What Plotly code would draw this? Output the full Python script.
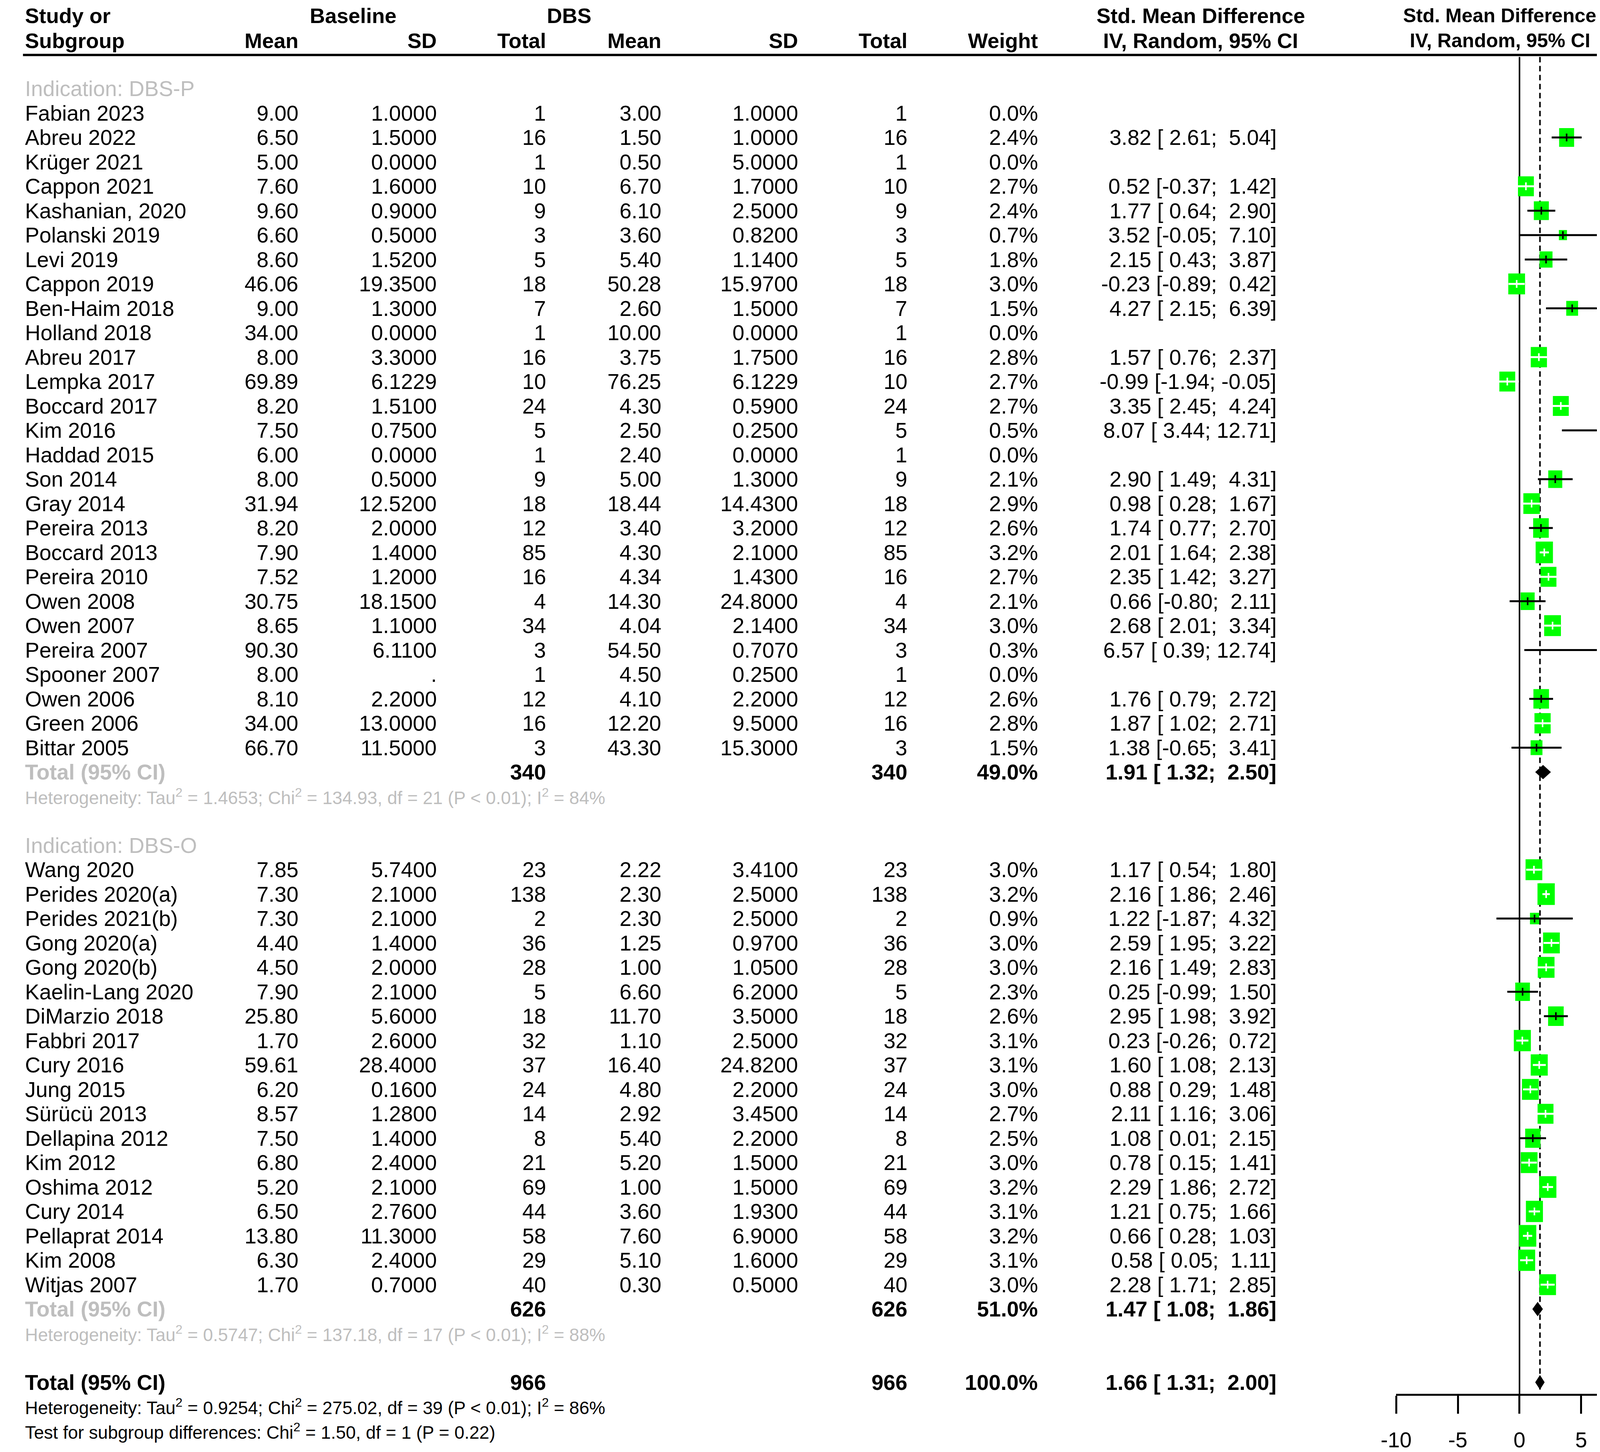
import math
import plotly.graph_objects as go

# ---------------- data ----------------
p_study = ["Fabian 2023", "Abreu 2022", "Krüger 2021", "Cappon 2021", "Kashanian, 2020",
           "Polanski 2019", "Levi 2019", "Cappon 2019", "Ben-Haim 2018", "Holland 2018",
           "Abreu 2017", "Lempka 2017", "Boccard 2017", "Kim 2016", "Haddad 2015",
           "Son 2014", "Gray 2014", "Pereira 2013", "Boccard 2013", "Pereira 2010",
           "Owen 2008", "Owen 2007", "Pereira 2007", "Spooner 2007", "Owen 2006",
           "Green 2006", "Bittar 2005"]
p_bmean = [9.00, 6.50, 5.00, 7.60, 9.60, 6.60, 8.60, 46.06, 9.00, 34.00, 8.00, 69.89, 8.20,
           7.50, 6.00, 8.00, 31.94, 8.20, 7.90, 7.52, 30.75, 8.65, 90.30, 8.00, 8.10, 34.00, 66.70]
p_bsd = [1.0, 1.5, 0.0, 1.6, 0.9, 0.5, 1.52, 19.35, 1.3, 0.0, 3.3, 6.1229, 1.51, 0.75, 0.0,
         0.5, 12.52, 2.0, 1.4, 1.2, 18.15, 1.1, 6.11, None, 2.2, 13.0, 11.5]
p_bn = [1, 16, 1, 10, 9, 3, 5, 18, 7, 1, 16, 10, 24, 5, 1, 9, 18, 12, 85, 16, 4, 34, 3, 1, 12, 16, 3]
p_dmean = [3.00, 1.50, 0.50, 6.70, 6.10, 3.60, 5.40, 50.28, 2.60, 10.00, 3.75, 76.25, 4.30,
           2.50, 2.40, 5.00, 18.44, 3.40, 4.30, 4.34, 14.30, 4.04, 54.50, 4.50, 4.10, 12.20, 43.30]
p_dsd = [1.0, 1.0, 5.0, 1.7, 2.5, 0.82, 1.14, 15.97, 1.5, 0.0, 1.75, 6.1229, 0.59, 0.25, 0.0,
         1.3, 14.43, 3.2, 2.1, 1.43, 24.8, 2.14, 0.707, 0.25, 2.2, 9.5, 15.3]
p_dn = p_bn
p_weight = [0.0, 2.4, 0.0, 2.7, 2.4, 0.7, 1.8, 3.0, 1.5, 0.0, 2.8, 2.7, 2.7, 0.5, 0.0,
            2.1, 2.9, 2.6, 3.2, 2.7, 2.1, 3.0, 0.3, 0.0, 2.6, 2.8, 1.5]
p_smd = [None, 3.82, None, 0.52, 1.77, 3.52, 2.15, -0.23, 4.27, None, 1.57, -0.99, 3.35, 8.07, None,
         2.90, 0.98, 1.74, 2.01, 2.35, 0.66, 2.68, 6.57, None, 1.76, 1.87, 1.38]
p_lo = [None, 2.61, None, -0.37, 0.64, -0.05, 0.43, -0.89, 2.15, None, 0.76, -1.94, 2.45, 3.44, None,
        1.49, 0.28, 0.77, 1.64, 1.42, -0.80, 2.01, 0.39, None, 0.79, 1.02, -0.65]
p_hi = [None, 5.04, None, 1.42, 2.90, 7.10, 3.87, 0.42, 6.39, None, 2.37, -0.05, 4.24, 12.71, None,
        4.31, 1.67, 2.70, 2.38, 3.27, 2.11, 3.34, 12.74, None, 2.72, 2.71, 3.41]

o_study = ["Wang 2020", "Perides 2020(a)", "Perides 2021(b)", "Gong 2020(a)", "Gong 2020(b)",
           "Kaelin-Lang 2020", "DiMarzio 2018", "Fabbri 2017", "Cury 2016", "Jung 2015",
           "Sürücü 2013", "Dellapina 2012", "Kim 2012", "Oshima 2012", "Cury 2014",
           "Pellaprat 2014", "Kim 2008", "Witjas 2007"]
o_bmean = [7.85, 7.30, 7.30, 4.40, 4.50, 7.90, 25.80, 1.70, 59.61, 6.20, 8.57, 7.50, 6.80, 5.20,
           6.50, 13.80, 6.30, 1.70]
o_bsd = [5.74, 2.1, 2.1, 1.4, 2.0, 2.1, 5.6, 2.6, 28.4, 0.16, 1.28, 1.4, 2.4, 2.1, 2.76, 11.3, 2.4, 0.7]
o_bn = [23, 138, 2, 36, 28, 5, 18, 32, 37, 24, 14, 8, 21, 69, 44, 58, 29, 40]
o_dmean = [2.22, 2.30, 2.30, 1.25, 1.00, 6.60, 11.70, 1.10, 16.40, 4.80, 2.92, 5.40, 5.20, 1.00,
           3.60, 7.60, 5.10, 0.30]
o_dsd = [3.41, 2.5, 2.5, 0.97, 1.05, 6.2, 3.5, 2.5, 24.82, 2.2, 3.45, 2.2, 1.5, 1.5, 1.93, 6.9, 1.6, 0.5]
o_dn = o_bn
o_weight = [3.0, 3.2, 0.9, 3.0, 3.0, 2.3, 2.6, 3.1, 3.1, 3.0, 2.7, 2.5, 3.0, 3.2, 3.1, 3.2, 3.1, 3.0]
o_smd = [1.17, 2.16, 1.22, 2.59, 2.16, 0.25, 2.95, 0.23, 1.60, 0.88, 2.11, 1.08, 0.78, 2.29, 1.21,
         0.66, 0.58, 2.28]
o_lo = [0.54, 1.86, -1.87, 1.95, 1.49, -0.99, 1.98, -0.26, 1.08, 0.29, 1.16, 0.01, 0.15, 1.86, 0.75,
        0.28, 0.05, 1.71]
o_hi = [1.80, 2.46, 4.32, 3.22, 2.83, 1.50, 3.92, 0.72, 2.13, 1.48, 3.06, 2.15, 1.41, 2.72, 1.66,
        1.03, 1.11, 2.85]

group_label = ["Indication: DBS-P", "Indication: DBS-O"]
group_n = [340, 626]
group_weight = [49.0, 51.0]
group_smd = [1.91, 1.47]
group_lo = [1.32, 1.08]
group_hi = [2.50, 1.86]
group_tau2 = [1.4653, 0.5747]
group_chi2 = [134.93, 137.18]
group_df = [21, 17]
group_i2 = [84, 88]

all_n = 966
all_weight = 100.0
all_smd, all_lo, all_hi = 1.66, 1.31, 2.00
all_tau2, all_chi2, all_df, all_i2 = 0.9254, 275.02, 39, 86
sub_chi2, sub_df, sub_p = 1.50, 1, 0.22

axis_ticks = [-10, -5, 0, 5, 10]
axis_ticktext = ["-10", "-5", "0", "5", "10"]

# ---------------- layout constants ----------------
W, H = 4328, 3718
X0, SX = 3906.0, 32.1          # pixel of effect 0, pixels per unit
Y0, SY = 281.5, 62.5           # pixel of first study row, pixels per row
FONT = "Liberation Sans, Arial, Helvetica, sans-serif"
FS = 55
FS_HDR = 54
FS_HET = 46
GRAY = "#bebebe"
GREEN = "#00ff00"
NB = "\u00a0"

C_NAME = 14
C_BMEAN, C_BSD, C_BN = 730, 1090, 1375
C_DMEAN, C_DSD, C_DN = 1674, 2030, 2315
C_W = 2655
C_SMD = 3276
C_SMD_HDR = 3076
C_FOREST_HDR = 3855

annotations = []
shapes = []


def ann(px, row, text, anchor="right", size=FS, color="black", bold=False):
    if bold:
        text = "<b>" + text + "</b>"
    annotations.append(dict(
        x=px / W, xref="paper", y=row, yref="y", text=text, showarrow=False,
        xanchor=anchor, yanchor="middle", align=anchor if anchor != "center" else "center",
        font=dict(family=FONT, size=size, color=color)))


def pad(v, width=5):
    s = f"{v:.2f}"
    return NB * max(0, width - len(s)) + s


def smd_text(e, lo, hi):
    return f"{pad(e)}{NB}[{pad(lo)};{NB}{pad(hi)}]"


# ---------------- header ----------------
ann(C_NAME, -4.0, "Study or", "left", size=FS_HDR, bold=True)
ann(C_NAME, -2.97, "Subgroup", "left", size=FS_HDR, bold=True)
ann(870, -4.0, "Baseline", "center", size=FS_HDR, bold=True)
ann(1433, -4.0, "DBS", "center", size=FS_HDR, bold=True)
for px, t in [(C_BMEAN, "Mean"), (C_BSD, "SD"), (C_BN, "Total"), (C_DMEAN, "Mean"),
              (C_DSD, "SD"), (C_DN, "Total"), (C_W, "Weight")]:
    ann(px, -2.97, t, "right", size=FS_HDR, bold=True)
ann(C_SMD_HDR, -4.0, "Std. Mean Difference", "center", size=FS_HDR, bold=True)
ann(C_SMD_HDR, -2.97, "IV, Random, 95% CI", "center", size=FS_HDR, bold=True)
ann(C_FOREST_HDR, -4.0, "Std. Mean Difference", "center", size=50, bold=True)
ann(C_FOREST_HDR, -2.97, "IV, Random, 95% CI", "center", size=50, bold=True)

shapes.append(dict(type="line", xref="paper", yref="y", x0=11 / W, x1=4320 / W,
                   y0=-2.38, y1=-2.38, line=dict(color="black", width=6)))

# reference lines (drawn first, under marks)
shapes.append(dict(type="line", xref="x", yref="y", x0=0, x1=0, y0=-2.3, y1=52.5,
                   line=dict(color="black", width=4)))
shapes.append(dict(type="line", xref="x", yref="y", x0=all_smd, x1=all_smd, y0=-2.3, y1=52.3,
                   line=dict(color="black", width=4, dash="14px,9px")))

groups = [
    dict(study=p_study, bmean=p_bmean, bsd=p_bsd, bn=p_bn, dmean=p_dmean, dsd=p_dsd, dn=p_dn,
         w=p_weight, e=p_smd, lo=p_lo, hi=p_hi, start=-1),
    dict(study=o_study, bmean=o_bmean, bsd=o_bsd, bn=o_bn, dmean=o_dmean, dsd=o_dsd, dn=o_dn,
         w=o_weight, e=o_smd, lo=o_lo, hi=o_hi, start=30),
]

box_shapes, ci_shapes, dia_shapes = [], [], []


def diamond(e, lo, hi, row, h=0.27):
    dia_shapes.append(dict(type="path", xref="x", yref="y",
                           path=f"M {lo},{row} L {e},{row - h} L {hi},{row} L {e},{row + h} Z",
                           fillcolor="black", line=dict(color="black", width=2)))


for gi, g in enumerate(groups):
    r = g["start"]
    ann(C_NAME, r, group_label[gi], "left", color=GRAY)
    for i, name in enumerate(g["study"]):
        row = r + 1 + i
        ann(C_NAME, row, name, "left")
        ann(C_BMEAN, row, f"{g['bmean'][i]:.2f}")
        ann(C_BSD, row, "." if g["bsd"][i] is None else f"{g['bsd'][i]:.4f}")
        ann(C_BN, row, str(g["bn"][i]))
        ann(C_DMEAN, row, f"{g['dmean'][i]:.2f}")
        ann(C_DSD, row, "." if g["dsd"][i] is None else f"{g['dsd'][i]:.4f}")
        ann(C_DN, row, str(g["dn"][i]))
        ann(C_W, row, f"{g['w'][i]:.1f}%")
        e = g["e"][i]
        if e is None:
            continue
        lo, hi, w = g["lo"][i], g["hi"][i], g["w"][i]
        ann(C_SMD, row, smd_text(e, lo, hi))
        hw = 0.392 * math.sqrt(w)
        hh = 0.248 * math.sqrt(w)
        box_shapes.append(dict(type="rect", xref="x", yref="y", x0=e - hw, x1=e + hw,
                               y0=row - hh, y1=row + hh, fillcolor=GREEN, line=dict(width=0)))
        col = "white" if (hi - lo) < 1.915 else "black"
        ci_shapes.append(dict(type="line", xref="x", yref="y", x0=lo, x1=hi, y0=row, y1=row,
                              line=dict(color=col, width=5)))
        ci_shapes.append(dict(type="line", xref="x", yref="y", x0=e, x1=e, y0=row - 0.16,
                              y1=row + 0.16, line=dict(color=col, width=4)))
    trow = r + 1 + len(g["study"])
    ann(C_NAME, trow, "Total (95% CI)", "left", color=GRAY, bold=True)
    ann(C_BN, trow, str(group_n[gi]), bold=True)
    ann(C_DN, trow, str(group_n[gi]), bold=True)
    ann(C_W, trow, f"{group_weight[gi]:.1f}%", bold=True)
    ann(C_SMD, trow, smd_text(group_smd[gi], group_lo[gi], group_hi[gi]), bold=True)
    diamond(group_smd[gi], group_lo[gi], group_hi[gi], trow)
    ann(C_NAME, trow + 1,
        f"Heterogeneity: Tau<sup>2</sup> = {group_tau2[gi]:.4f}; Chi<sup>2</sup> = {group_chi2[gi]:.2f}, "
        f"df = {group_df[gi]} (P &lt; 0.01); I<sup>2</sup> = {group_i2[gi]}%",
        "left", size=FS_HET, color=GRAY)

# overall
orow = 52
ann(C_NAME, orow, "Total (95% CI)", "left", bold=True)
ann(C_BN, orow, str(all_n), bold=True)
ann(C_DN, orow, str(all_n), bold=True)
ann(C_W, orow, f"{all_weight:.1f}%", bold=True)
ann(C_SMD, orow, smd_text(all_smd, all_lo, all_hi), bold=True)
diamond(all_smd, all_lo, all_hi, orow)
ann(C_NAME, orow + 1,
    f"Heterogeneity: Tau<sup>2</sup> = {all_tau2:.4f}; Chi<sup>2</sup> = {all_chi2:.2f}, "
    f"df = {all_df} (P &lt; 0.01); I<sup>2</sup> = {all_i2}%", "left", size=FS_HET)
ann(C_NAME, orow + 2,
    f"Test for subgroup differences: Chi<sup>2</sup> = {sub_chi2:.2f}, df = {sub_df} (P = {sub_p:.2f})",
    "left", size=FS_HET)

shapes.extend(box_shapes)
shapes.extend(ci_shapes)
shapes.extend(dia_shapes)

fig = go.Figure()
fig.add_trace(go.Scatter(x=[0], y=[-4], mode="markers", marker=dict(opacity=0),
                         hoverinfo="skip", showlegend=False))
fig.add_trace(go.Scatter(x=[0], y=[-4], xaxis="x2", yaxis="y", mode="markers",
                         marker=dict(opacity=0), hoverinfo="skip", showlegend=False))

y_top = -Y0 / SY
y_bot = (H - Y0) / SY
x_left = -X0 / SX
x_right = (W - X0) / SX
axis_y_px = Y0 + 52.5 * SY

fig.update_layout(
    width=W, height=H, autosize=False,
    margin=dict(l=0, r=0, t=0, b=0, pad=0),
    paper_bgcolor="white", plot_bgcolor="white",
    showlegend=False,
    xaxis=dict(domain=[0, 1], range=[x_left, x_right], visible=False, fixedrange=True),
    yaxis=dict(domain=[0, 1], range=[y_bot, y_top], visible=False, fixedrange=True),
    xaxis2=dict(domain=[(X0 - 10 * SX) / W, (X0 + 10 * SX) / W], range=[-10, 10],
                anchor="free", position=1 - axis_y_px / H,
                showline=True, linecolor="black", linewidth=5,
                ticks="outside", ticklen=46, tickwidth=5, tickcolor="black",
                tickvals=axis_ticks, ticktext=axis_ticktext,
                tickfont=dict(family=FONT, size=FS, color="black"),
                ticklabelstandoff=20,
                showgrid=False, zeroline=False, fixedrange=True),
    annotations=annotations,
    shapes=shapes,
)

fig.write_html("out.html")
